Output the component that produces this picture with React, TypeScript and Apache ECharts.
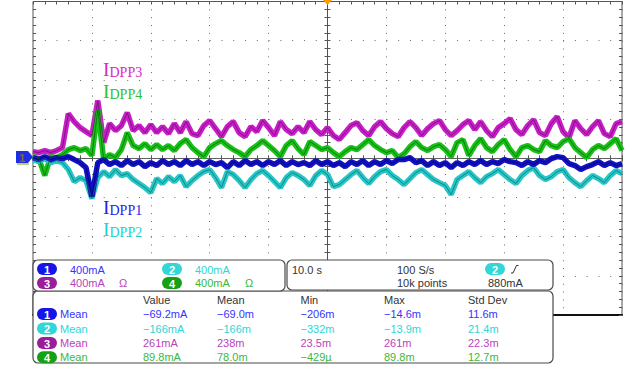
import React, { useEffect, useRef } from "react";
import * as echarts from "echarts";

// sample times (s), 1 s spacing, 10 s/div
const TIME_S = Array.from({ length: 101 }, (_, i) => -50 + i);

// channel currents in mA
const CH1_MA = [7,-13,17,-13,7,-3,17,-13,-44,-95,-391,-44,-13,-64,-34,-74,-23,-64,-34,-85,-44,-74,-23,-64,-34,-74,-23,-64,-34,-74,-34,-64,-44,-95,-34,-74,-23,-64,-34,-74,-34,-64,-23,-74,-34,-64,-44,-74,-23,-64,-34,-74,-44,-85,-34,-64,-23,-74,-34,-64,-23,-54,-13,-13,7,-44,-23,-74,-34,-74,-44,-95,-44,-74,-34,-64,-23,-64,-34,-54,-13,-34,-44,-74,-34,-64,-23,-44,-3,17,7,-54,-74,-115,-85,-64,-34,-74,-44,-74,-54];
const CH2_MA = [-13,-34,-3,-44,-23,-44,-115,-238,-197,-227,-411,-197,-136,-187,-115,-176,-156,-217,-258,-299,-350,-207,-258,-187,-238,-176,-289,-227,-176,-136,-115,-197,-299,-136,-166,-227,-299,-217,-156,-125,-176,-238,-299,-197,-146,-176,-217,-278,-176,-125,-166,-289,-268,-217,-166,-125,-197,-258,-187,-136,-115,-176,-217,-268,-207,-146,-115,-166,-217,-248,-278,-370,-217,-176,-136,-197,-248,-187,-156,-115,-166,-217,-258,-176,-125,-95,-176,-217,-187,-136,-115,-197,-248,-289,-227,-176,-207,-248,-176,-125,-156];
const CH3_MA = [68,58,79,58,79,109,456,374,313,272,232,589,160,354,283,334,466,283,334,262,344,262,323,252,354,262,374,252,232,334,385,303,221,323,374,262,221,323,272,385,313,232,374,293,252,323,262,374,293,242,313,232,191,262,334,364,283,232,323,374,303,252,221,313,374,313,232,303,354,385,293,232,283,344,385,293,374,283,221,313,354,405,293,242,334,395,262,232,354,425,272,211,385,303,242,323,385,252,221,354,374];
const CH4_MA = [17,-3,-176,17,7,38,89,109,79,99,28,497,-13,38,7,89,262,130,99,150,89,140,89,130,79,150,191,109,58,17,109,150,181,130,89,58,17,89,130,181,130,79,17,130,181,99,38,170,130,89,109,58,17,68,109,89,140,191,130,89,58,79,7,47,119,170,109,79,119,140,89,17,160,191,28,130,201,109,68,140,191,89,17,109,130,89,68,181,130,109,170,201,109,58,7,89,130,99,150,201,79];

const CHANNEL_SCALES = ["400mA", "400mA", "400mA", "400mA"];
const MEAS_HEADERS = ["Value", "Mean", "Min", "Max", "Std Dev"];
const MEAS_ROWS = [
  ["\u221269.2mA", "\u221269.0m", "\u2212206m", "\u221214.6m", "11.6m"],
  ["\u2212166mA", "\u2212166m", "\u2212332m", "\u221213.9m", "21.4m"],
  ["261mA", "238m", "23.5m", "261m", "22.3m"],
  ["89.8mA", "78.0m", "\u2212429\u00b5", "89.8m", "12.7m"],
];
const TRACE_LABELS = ["DPP1", "DPP2", "DPP3", "DPP4"];

const TRACE = ["#1212c4", "#26c6c6", "#c81ec8", "#18c018"];
const TRACE_DARK = ["#00006e", "#0e7070", "#6e0e6e", "#0a660a"];
const TEXTC = ["#3535ff", "#2ed6d6", "#bb3fbb", "#3cb83c"];
const BADGE = ["#1515e8", "#33d6d6", "#9a1e9a", "#16a016"];
const LABELC = ["#2323e6", "#22d0d0", "#d42ac8", "#2ec02e"];

const SANS = '"Liberation Sans", Arial, sans-serif';
const SERIF = '"Liberation Serif", "Times New Roman", serif';

function txt(x: number, y: number, text: string, fill: string, size = 11, family = SANS, weight = "normal") {
  return {
    type: "text", x, y, z: 100,
    style: { text, fill, font: `${weight} ${size}px ${family}`, align: "left", verticalAlign: "middle" },
  };
}
function badge(x: number, y: number, w: number, h: number, ch: number) {
  return [
    { type: "rect", z: 100, shape: { x, y, width: w, height: h, r: h / 2 }, style: { fill: BADGE[ch] } },
    {
      type: "text", z: 101, x: x + w / 2, y: y + h / 2 + 0.5,
      style: { text: String(ch + 1), fill: "#ffffff", font: `bold 11px ${SANS}`, align: "center", verticalAlign: "middle" },
    },
  ];
}

export default function App() {
  const ref = useRef<HTMLDivElement>(null);
  useEffect(() => {
    if (!ref.current) return;
    const chart = echarts.init(ref.current, undefined, { renderer: "svg" });
    const tick = { show: true, inside: true, length: 3, lineStyle: { color: "#555", width: 1 } };
    const minor = { show: true, splitNumber: 5, length: 3, lineStyle: { color: "#555", width: 1 } };
    const yBase = { type: "value", min: -1600, max: 1600, interval: 400, axisLabel: { show: false }, splitLine: { show: false } };
    const xBase = { type: "value", min: -50, max: 50, interval: 10, axisLabel: { show: false }, splitLine: { show: false } };

    const series: any[] = [];
    const order = [2, 3, 1, 0];
    const data = [CH1_MA, CH2_MA, CH3_MA, CH4_MA];
    order.forEach((ch) => {
      const pts = TIME_S.map((t, i) => [t, data[ch][i]]);
      series.push({
        type: "line", data: pts, symbol: "none", silent: true, z: 3,
        lineStyle: { color: TRACE[ch], width: 5.5 },
      });
      series.push({
        type: "line", data: pts, symbol: "none", silent: true, z: 4,
        lineStyle: { color: TRACE_DARK[ch], width: 1, opacity: 0.75 },
      });
    });

    const g: any[] = [];
    // trigger marker and channel 1 ground marker
    g.push({ type: "polygon", z: 100, shape: { points: [[323, 0], [332, 0], [327.5, 5]] }, style: { fill: "#ff9a00" } });
    g.push({ type: "polygon", z: 100, shape: { points: [[16, 151], [28, 151], [33, 157], [28, 163], [16, 163]] }, style: { fill: "#1d2fe0" } });
    g.push({ type: "line", z: 99, shape: { x1: 17, y1: 164, x2: 29, y2: 164 }, style: { stroke: "#a8c040", lineWidth: 1.5 } });
    g.push(txt(19, 157.5, "1", "#8a6a20", 11, SANS, "bold"));

    // trace labels (I with subscript DPPn), one rich text each; value = baseline y
    const labelBase = [214, 236, 76, 98];
    [2, 3, 0, 1].forEach((ch) => {
      const b = labelBase[ch];
      g.push({
        type: "text", x: 103, y: b + 3.1, z: 100,
        style: {
          text: `{i|I}{s|${TRACE_LABELS[ch]}}`,
          align: "left", verticalAlign: "bottom",
          rich: {
            i: { fontFamily: SERIF, fontSize: 19.5, lineHeight: 19, fill: LABELC[ch], verticalAlign: "bottom" },
            s: { fontFamily: SERIF, fontSize: 14, lineHeight: 15.6, fill: LABELC[ch], verticalAlign: "bottom" },
          },
        },
      });
    });

    // boxes
    const boxStyle = { fill: "#ffffff", stroke: "#4a4a4a", lineWidth: 1.2 };
    g.push({ type: "rect", z: 98, shape: { x: 33, y: 291, width: 520, height: 72, r: 5 }, style: boxStyle });
    g.push({ type: "rect", z: 98, shape: { x: 33, y: 260, width: 252, height: 31, r: 5 }, style: boxStyle });
    g.push({ type: "rect", z: 98, shape: { x: 287, y: 260, width: 266, height: 30, r: 5 }, style: boxStyle });

    // box 1: channel scales
    const r1 = 269.5, r2 = 282.8;
    g.push(...badge(37, 263, 20, 12, 0));
    g.push(txt(70, r1, CHANNEL_SCALES[0], TEXTC[0]));
    g.push(...badge(162, 263, 20, 12, 1));
    g.push(txt(195, r1, CHANNEL_SCALES[1], TEXTC[1]));
    g.push(...badge(37, 277, 20, 12, 2));
    g.push(txt(70, r2, CHANNEL_SCALES[2], TEXTC[2]));
    g.push(txt(119, r2, "\u03a9", TEXTC[2]));
    g.push(...badge(162, 277, 20, 12, 3));
    g.push(txt(195, r2, CHANNEL_SCALES[3], TEXTC[3]));
    g.push(txt(245, r2, "\u03a9", TEXTC[3]));

    // box 2: timebase / trigger
    g.push(txt(292, r1, "10.0 s", "#333"));
    g.push(txt(397, r1, "100 S/s", "#333"));
    g.push(txt(397, r2, "10k points", "#333"));
    g.push(...badge(485, 263, 20, 12, 1));
    g.push({ type: "polyline", z: 100, shape: { points: [[511, 273], [513, 273], [516.5, 265.5], [518.5, 265.5]] }, style: { stroke: "#333", lineWidth: 1, fill: "none" } });
    g.push(txt(488, r2, "880mA", "#333"));

    // box 3: measurements
    const colX = [143, 217, 300.5, 384, 468];
    MEAS_HEADERS.forEach((h, i) => g.push(txt(colX[i], 300.2, h, "#333")));
    const rowY = [314, 328.5, 343, 357.3];
    MEAS_ROWS.forEach((row, ch) => {
      g.push(...badge(37, rowY[ch] - 6, 20, 12, ch));
      g.push(txt(60, rowY[ch], "Mean", TEXTC[ch]));
      row.forEach((v, i) => g.push(txt(colX[i], rowY[ch], v, TEXTC[ch])));
    });

    chart.setOption({
      animation: false,
      backgroundColor: "#ffffff",
      grid: { left: 33, top: 1.5, width: 589, height: 313.6, show: true, borderColor: "#555", borderWidth: 1, backgroundColor: "#ffffff" },
      xAxis: [
        { ...xBase, position: "bottom", axisLine: { show: true, onZero: true, lineStyle: { color: "#606060", width: 1 } }, axisTick: tick, minorTick: minor,
          splitLine: { show: true, lineStyle: { color: "#6a6a6a", width: 1, type: [1, 6.84] } } },
        { ...xBase, position: "top", axisLine: { show: true, onZero: true, lineStyle: { color: "#606060", width: 1 } }, axisTick: tick, minorTick: minor },
        { ...xBase, position: "top", axisLine: { show: false, onZero: false }, axisTick: tick, minorTick: minor },
        { ...xBase, position: "bottom", axisLine: { show: true, onZero: false, lineStyle: { color: "#111", width: 2 } }, axisTick: { show: false } },
      ],
      yAxis: [
        { ...yBase, position: "left", axisLine: { show: true, onZero: true, lineStyle: { color: "#505050", width: 1 } }, axisTick: tick, minorTick: minor,
          splitLine: { show: true, lineStyle: { color: "#6a6a6a", width: 1, type: [1, 10.78] } } },
        { ...yBase, position: "right", axisLine: { show: true, onZero: true, lineStyle: { color: "#505050", width: 1 } }, axisTick: tick, minorTick: minor },
        { ...yBase, position: "left", axisLine: { show: false, onZero: false }, axisTick: tick, minorTick: minor },
        { ...yBase, position: "right", axisLine: { show: false, onZero: false }, axisTick: tick, minorTick: minor },
      ],
      series,
      graphic: { elements: g },
    });
    return () => chart.dispose();
  }, []);
  return <div ref={ref} style={{ position: "fixed", left: 0, top: 0, width: 634, height: 368, background: "#fff" }} />;
}
